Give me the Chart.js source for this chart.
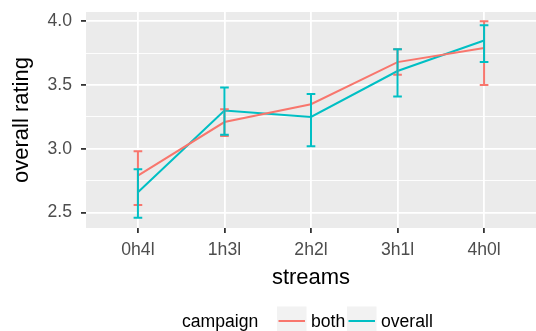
<!DOCTYPE html>
<html>
<head>
<meta charset="utf-8">
<script src="https://cdn.jsdelivr.net/npm/chart.js@4.4.1/dist/chart.umd.min.js"></script>
<style>
  html, body { margin: 0; padding: 0; background: #fff; }
  #chart { display: block; }
</style>
</head>
<body>
<canvas id="chart" width="536" height="331"></canvas>
<script>
// data
const categories = ['0h4l', '1h3l', '2h2l', '3h1l', '4h0l'];
const bothMean = [2.79, 3.21, 3.35, 3.68, 3.79];
const bothLow = [2.56, 3.10, null, 3.58, 3.50];
const bothHigh = [2.98, 3.31, null, 3.78, 4.00];
const overallMean = [2.66, 3.30, 3.25, 3.61, 3.85];
const overallLow = [2.46, 3.11, 3.02, 3.41, 3.68];
const overallHigh = [2.84, 3.48, 3.43, 3.78, 3.97];
const yTicks = [2.5, 2.75, 3.0, 3.25, 3.5, 3.75, 4.0];
const seriesNames = ['both', 'overall'];

const RED = '#F8766D';
const TEAL = '#00BFC4';
const FONT = '"Liberation Sans", Arial, Helvetica, sans-serif';

const isMajor = v => Math.abs(v * 2 - Math.round(v * 2)) < 0.01;
const toPoints = arr => arr.map((v, i) => ({ x: i, y: v }));

// grey panel behind everything
const panelBg = {
  id: 'panelBg',
  beforeDraw(chart) {
    const { ctx, chartArea: a } = chart;
    ctx.save();
    ctx.fillStyle = '#EBEBEB';
    ctx.fillRect(a.left, a.top, a.right - a.left, a.bottom - a.top);
    ctx.restore();
  }
};

// error bars drawn through the scales
const errorBars = {
  id: 'errorBars',
  afterDatasetsDraw(chart) {
    const { ctx, chartArea: a } = chart;
    const xs = chart.scales.x, ys = chart.scales.y;
    ctx.save();
    ctx.beginPath();
    ctx.rect(a.left, a.top, a.right - a.left, a.bottom - a.top);
    ctx.clip();
    chart.data.datasets.forEach(ds => {
      ctx.strokeStyle = ds.borderColor;
      ctx.lineWidth = 2;
      ds.errLow.forEach((lo, i) => {
        const hi = ds.errHigh[i];
        if (lo == null || hi == null) return;
        const x = xs.getPixelForValue(i);
        const half = xs.getPixelForValue(i + 0.05) - x;
        const y1 = ys.getPixelForValue(lo), y2 = ys.getPixelForValue(hi);
        ctx.beginPath();
        ctx.moveTo(x, y1); ctx.lineTo(x, y2);
        ctx.moveTo(x - half, y1); ctx.lineTo(x + half, y1);
        ctx.moveTo(x - half, y2); ctx.lineTo(x + half, y2);
        ctx.stroke();
      });
    });
    ctx.restore();
  }
};

// axis titles and ggplot style legend
const titlesAndLegend = {
  id: 'titlesAndLegend',
  afterDraw(chart) {
    const { ctx, chartArea: a } = chart;
    ctx.save();
    ctx.fillStyle = '#000';
    ctx.font = '22px ' + FONT;
    ctx.textAlign = 'center';
    ctx.textBaseline = 'alphabetic';
    ctx.fillText('streams', (a.left + a.right) / 2, 284);

    ctx.translate(28, (a.top + a.bottom) / 2);
    ctx.rotate(-Math.PI / 2);
    ctx.fillText('overall rating', 0, 0);
    ctx.restore();

    ctx.save();
    ctx.font = '17.6px ' + FONT;
    ctx.fillStyle = '#000';
    ctx.textAlign = 'left';
    ctx.textBaseline = 'alphabetic';
    ctx.fillText('campaign', 182, 326.5);
    const keys = [277, 347];
    const cols = [RED, TEAL];
    keys.forEach((kx, i) => {
      ctx.fillStyle = '#F2F2F2';
      ctx.fillRect(kx, 306.5, 29.5, 30);
      ctx.strokeStyle = cols[i];
      ctx.lineWidth = 2;
      ctx.beginPath();
      ctx.moveTo(kx + 1.5, 321);
      ctx.lineTo(kx + 28, 321);
      ctx.stroke();
      ctx.fillStyle = '#000';
      ctx.fillText(seriesNames[i], kx + 34, 326.5);
    });
    ctx.restore();
  }
};

new Chart(document.getElementById('chart'), {
  type: 'line',
  data: {
    datasets: [
      {
        label: seriesNames[0],
        data: toPoints(bothMean),
        errLow: bothLow,
        errHigh: bothHigh,
        borderColor: RED,
        backgroundColor: RED,
        borderWidth: 2,
        pointRadius: 0,
        tension: 0
      },
      {
        label: seriesNames[1],
        data: toPoints(overallMean),
        errLow: overallLow,
        errHigh: overallHigh,
        borderColor: TEAL,
        backgroundColor: TEAL,
        borderWidth: 2,
        pointRadius: 0,
        tension: 0
      }
    ]
  },
  options: {
    responsive: false,
    devicePixelRatio: 1,
    animation: false,
    layout: { padding: { top: 12, right: 0, bottom: 0, left: 0 } },
    plugins: {
      legend: { display: false },
      tooltip: { enabled: false }
    },
    scales: {
      x: {
        type: 'linear',
        min: -0.6,
        max: 4.6,
        afterBuildTicks: s => { s.ticks = categories.map((_, i) => ({ value: i })); },
        afterFit: s => { s.height = 103; s.paddingLeft = 0; s.paddingRight = 0; },
        border: { display: false },
        grid: {
          color: '#FFFFFF',
          lineWidth: 1.8,
          tickLength: 5,
          tickColor: '#333333',
          tickWidth: 1.8
        },
        ticks: {
          autoSkip: false,
          maxRotation: 0,
          padding: 6.5,
          color: '#4D4D4D',
          font: { family: FONT, size: 17.6 },
          callback: v => categories[v]
        }
      },
      y: {
        min: 2.379,
        max: 4.073,
        afterBuildTicks: s => { s.ticks = yTicks.map(v => ({ value: v })); },
        afterFit: s => { s.width = 86; s.paddingTop = 0; s.paddingBottom = 0; },
        border: { display: false },
        grid: {
          color: '#FFFFFF',
          lineWidth: c => (c.tick && isMajor(c.tick.value) ? 1.8 : 0.9),
          tickLength: 5,
          tickColor: c => (c.tick && isMajor(c.tick.value) ? '#333333' : 'rgba(0,0,0,0)'),
          tickWidth: 1.8
        },
        ticks: {
          padding: 9,
          color: '#4D4D4D',
          font: { family: FONT, size: 17.6 },
          callback: v => (isMajor(v) ? v.toFixed(1) : '')
        }
      }
    }
  },
  plugins: [panelBg, errorBars, titlesAndLegend]
});
</script>
</body>
</html>
